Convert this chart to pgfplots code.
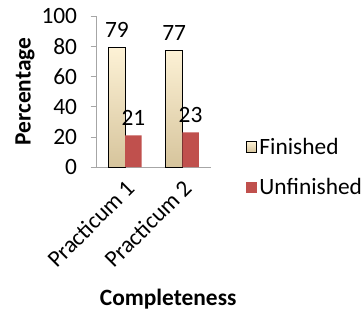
\documentclass[border=0pt]{standalone}
\usepackage{pgfplots}
\pgfplotsset{compat=1.18}
\usepackage{fontspec}
\setmainfont{Carlito}
\definecolor{unf}{HTML}{C0504D}
\definecolor{fintop}{HTML}{FDF2D6}
\definecolor{finbot}{HTML}{D6C49C}
\definecolor{axgray}{HTML}{A6A6A6}
\newcommand{\bigf}{\fontsize{23.5}{26}\selectfont}
\begin{document}
\begin{tikzpicture}
\begin{axis}[
  name=ax,
  scale only axis,
  width=115pt, height=152pt,
  xmin=-0.5, xmax=1.5, ymin=0, ymax=100,
  /pgf/number format/assume math mode=true,
  axis x line*=bottom, axis y line*=left,
  axis line style={axgray, line width=0.8pt},
  ytick={0,20,40,60,80,100},
  xtick={0,1},
  xticklabels={Practicum 1, Practicum 2},
  major x tick style={draw=none},
  extra x ticks={-0.5,0.5,1.5},
  extra x tick labels={},
  extra x tick style={major tick length=7pt, tick align=outside, tick style={axgray, line width=0.8pt}},
  ytick align=outside, major tick length=6pt,
  ytick style={axgray, line width=0.8pt},
  tick label style={font=\bigf},
  xticklabel style={rotate=45, anchor=north east, inner sep=1pt, xshift=-3pt, yshift=-2pt},
  yticklabel style={xshift=-10pt},
  ylabel={\textbf{Percentage}},
  ylabel style={font=\bigf, yshift=0pt},
  xlabel={\textbf{Completeness}},
  xlabel style={font=\bigf, at={(axis description cs:0.626,-0.875)}, anchor=center},
  ybar, bar width=16.5pt,
  nodes near coords,
  nodes near coords style={font=\bigf, yshift=6pt},
  clip=false,
  legend style={draw=none, fill=none, at={(1.3,0.0)}, anchor=west,
    font=\bigf, row sep=19pt, legend cell align=left, inner sep=0pt,
    /tikz/every even column/.append style={column sep=3pt}},
  legend image code/.code={\path[#1] (0pt,-5.5pt) rectangle (11pt,5.5pt);},
]
\addplot[bar shift=-8.25pt, draw=black, line width=1pt, top color=fintop, bottom color=finbot] coordinates {(0,79) (1,77)};
\addplot[bar shift=8.25pt, draw=none, fill=unf] coordinates {(0,21) (1,23)};
\legend{Finished, Unfinished}
\end{axis}
\path (ax.south west) ++(-97pt,-144pt) rectangle ++(364pt,312pt);
\end{tikzpicture}
\end{document}
